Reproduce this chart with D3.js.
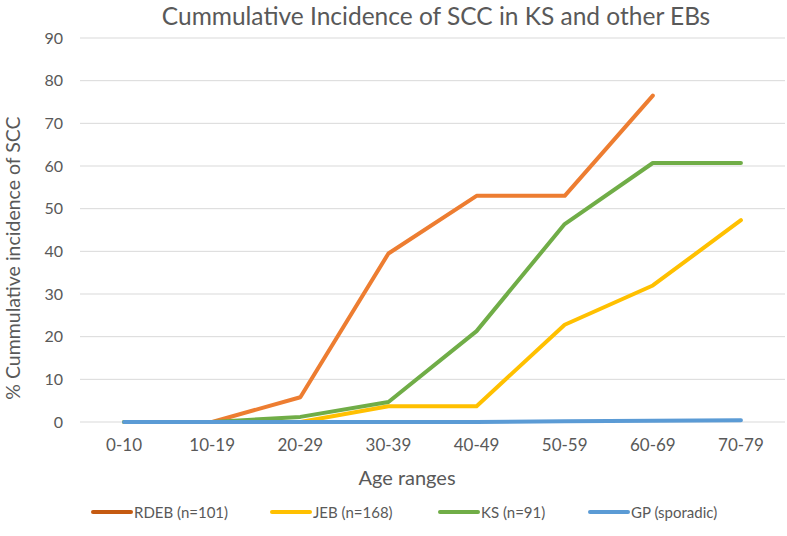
<!DOCTYPE html>
<html><head><meta charset="utf-8">
<script src="https://cdn.jsdelivr.net/npm/d3@7"></script>
<style>body{margin:0;background:#fff}svg{display:block}text{font-family:Lato,"Open Sans",sans-serif;fill:#595959}</style>
</head><body><svg id="c" width="787" height="536"></svg>
<script>
const categories = ["0-10","10-19","20-29","30-39","40-49","50-59","60-69","70-79"];
const rdeb = [null, 0, 5.8, 39.5, 53, 53, 76.5, null];
const jeb  = [0, 0, 0, 3.7, 3.7, 22.8, 32, 47.3];
const ks   = [0, 0, 1.2, 4.7, 21.3, 46.4, 60.7, 60.7];
const gp   = [0, 0, 0, 0, 0, 0.2, 0.3, 0.4];
const yTicks = [0,10,20,30,40,50,60,70,80,90];
const seriesNames = ["RDEB (n=101)","JEB (n=168)","KS (n=91)","GP (sporadic)"];
const seriesColors = ["#ED7D31","#FFC000","#70AD47","#5B9BD5"];
const legendColors = ["#C55A11","#FFC000","#70AD47","#5B9BD5"];
const seriesValues = [rdeb, jeb, ks, gp];

const svg = d3.select("#c");
const L=80, R=785, T=38, B=422;
const x = d3.scaleBand().domain(categories).range([L,R]);
const y = d3.scaleLinear().domain([0,90]).range([B,T]);
const FF = "Lato,'Open Sans',sans-serif";

svg.append("g").selectAll("line").data(yTicks).join("line")
  .attr("x1",L).attr("x2",R).attr("y1",d=>y(d)).attr("y2",d=>y(d))
  .attr("stroke","#d9d9d9").attr("stroke-width",1);

const ya = svg.append("g").attr("transform",`translate(${L},0)`)
  .call(d3.axisLeft(y).tickValues(yTicks).tickSize(0).tickPadding(17));
ya.select(".domain").remove();
ya.selectAll("text").attr("font-size","16px").style("font-family",FF).attr("fill","#595959");

const xa = svg.append("g").attr("transform",`translate(0,${B})`)
  .call(d3.axisBottom(x).tickSize(0).tickPadding(17));
xa.select(".domain").remove();
xa.selectAll("text").attr("font-size","17px").style("font-family",FF).attr("fill","#595959");

const line = d3.line().defined(d=>d!=null)
  .x((d,i)=>x(categories[i])+x.bandwidth()/2).y(d=>y(d));
seriesValues.forEach((vals,k)=>{
  svg.append("path").datum(vals).attr("d",line).attr("fill","none")
    .attr("stroke",seriesColors[k]).attr("stroke-width",4)
    .attr("stroke-linejoin","round").attr("stroke-linecap","round");
});

svg.append("text").attr("x",436).attr("y",25).attr("text-anchor","middle")
  .attr("font-size","24.5px").text("Cummulative Incidence of SCC in KS and other EBs");
svg.append("text").attr("transform","translate(20,258) rotate(-90)").attr("text-anchor","middle")
  .attr("font-size","19.5px").text("% Cummulative incidence of SCC");
svg.append("text").attr("x",407).attr("y",485).attr("text-anchor","middle")
  .attr("font-size","20px").text("Age ranges");

const legX = [93,272,440,590];
const lg = svg.append("g");
seriesNames.forEach((n,k)=>{
  lg.append("line").attr("x1",legX[k]).attr("x2",legX[k]+38).attr("y1",512).attr("y2",512)
    .attr("stroke",legendColors[k]).attr("stroke-width",4).attr("stroke-linecap","round");
  lg.append("text").attr("x",legX[k]+41).attr("y",518).attr("font-size","15px").text(n);
});
</script></body></html>
